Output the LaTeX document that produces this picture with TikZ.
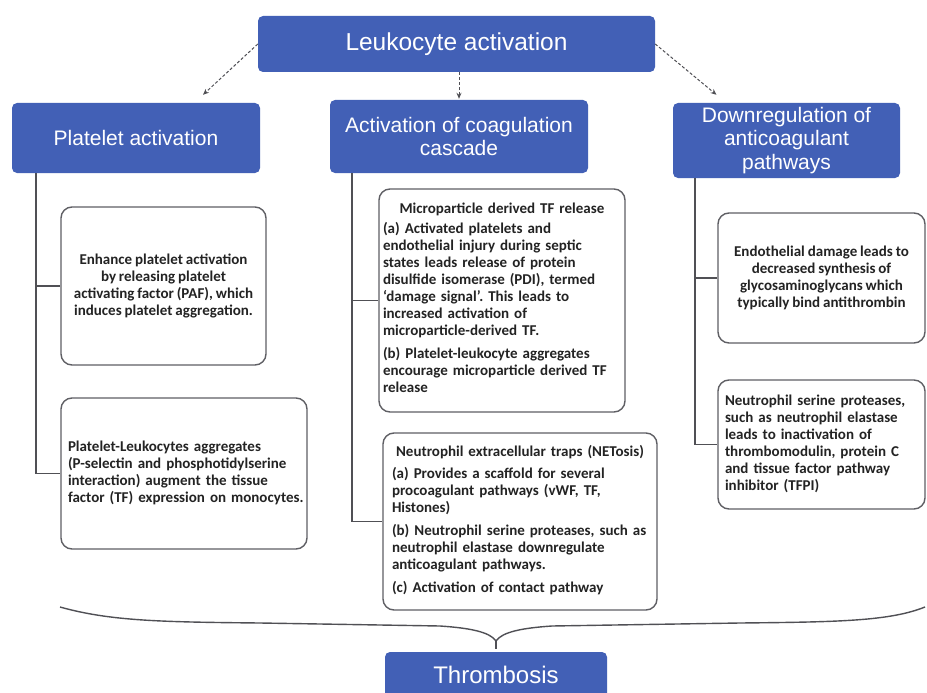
\documentclass[tikz,border=0pt]{standalone}
\usepackage{fontspec}
\newfontfamily\hfont{Liberation Sans}
\newfontfamily\cfont[WordSpace=0.85]{Carlito}
\usetikzlibrary{calc,arrows.meta}
\definecolor{hblue}{RGB}{66,96,182}
\definecolor{cgray}{RGB}{95,95,100}
\definecolor{lgray}{RGB}{80,80,85}
\definecolor{tgray}{RGB}{35,35,35}
\begin{document}
\begin{tikzpicture}[x=1pt,y=-1pt,
  hdr/.style={fill=hblue, rounded corners=5pt, text=white, align=center, inner sep=0pt,
    font=\hfont\fontsize{21}{23.5}\selectfont},
  card/.style={draw=cgray, line width=1.4pt, fill=white, rounded corners=11pt, inner sep=0pt,
    text=tgray, font=\cfont\bfseries\fontsize{15}{17}\selectfont\frenchspacing},
  link/.style={draw=lgray, line width=1.6pt},
  arr/.style={draw=lgray, line width=1pt, densely dashed, -{Stealth[length=6pt,width=5pt]}},
]
\useasboundingbox (0,0) rectangle (927,693);
\fill[white] (0,0) rectangle (927,693);

% headers
\node[hdr, minimum width=397, minimum height=56, font=\hfont\fontsize{24.5}{28}\selectfont] (leuk) at (456.5,44) {Leukocyte activation};
\node[hdr, minimum width=248, minimum height=70] (plat) at (136,138) {Platelet activation};
\node[hdr, minimum width=258, minimum height=73] (coag) at (459,136.5) {Activation of coagulation\\cascade};
\node[hdr, minimum width=227, minimum height=75] (down) at (786.5,140.5) {Downregulation of\\anticoagulant\\pathways};
\node[hdr, minimum width=222, minimum height=46, font=\hfont\fontsize{24}{28}\selectfont] (thr) at (496,675) {Thrombosis};

% arrows from leukocyte activation
\draw[arr] (leuk.west) -- ($(plat.north)+(67,-8)$);
\draw[arr] (leuk.south -| coag.north) -- ($(coag.north)+(0,-1)$);
\draw[arr] (leuk.east) -- ($(down.north)+(-70,-8)$);

% cards
\node[card, minimum width=205, minimum height=158, align=center] (enh) at (163.5,286)
  {Enhance platelet activation\\by releasing platelet\\activating factor (PAF), which\\induces platelet aggregation.};
\node[card, text width=232, inner xsep=7, minimum height=151, align=left] (plg) at (184,473.5)
  {\begin{tabular}{@{}l@{}}Platelet-Leukocytes aggregates\\(P-selectin and phosphotidylserine\\interaction) augment the tissue\\factor (TF) expression on monocytes.\end{tabular}};

\node[card, text width=238, inner xsep=4, minimum height=223, align=left] (micro) at (502,300.5)
  {\makebox[\linewidth]{Microparticle derived TF release}\\[5pt]
   \begin{tabular}{@{}l@{}}(a) Activated platelets and\\endothelial injury during septic\\states leads release of protein\\disulfide isomerase (PDI), termed\\‘damage signal’. This leads to\\increased activation of\\microparticle-derived TF.\\[6pt]
   (b) Platelet-leukocyte aggregates\\encourage microparticle derived TF\\release\end{tabular}};
\node[card, text width=256, inner xsep=9, minimum height=177, align=left] (net) at (520,521.5)
  {\makebox[\linewidth]{Neutrophil extracellular traps (NETosis)}\\[7pt]
   \begin{tabular}{@{}l@{}}(a) Provides a scaffold for several\\procoagulant pathways (vWF, TF,\\Histones)\\[6pt]
   (b) Neutrophil serine proteases, such as\\neutrophil elastase downregulate\\anticoagulant pathways.\\[6pt]
   (c) Activation of contact pathway\end{tabular}};

\node[card, minimum width=207, minimum height=130, align=center] (endo) at (821.5,278)
  {Endothelial damage leads to\\decreased synthesis of\\glycosaminoglycans which\\typically bind antithrombin};
\node[card, text width=193, inner xsep=7, minimum height=129, align=left] (nsp) at (821.5,444.5)
  {\begin{tabular}{@{}l@{}}Neutrophil serine proteases,\\such as neutrophil elastase\\leads to inactivation of\\thrombomodulin, protein C\\and tissue factor pathway\\inhibitor (TFPI)\end{tabular}};

% tree connectors
\coordinate (pv) at ($(plat.south west)+(24,0)$);
\coordinate (cv) at ($(coag.south west)+(22,0)$);
\coordinate (dv) at ($(down.south west)+(22,0)$);
\draw[link] (pv) |- (enh.west);
\draw[link] (pv) |- (plg.west);
\draw[link] (cv) |- (micro.west);
\draw[link] (cv) |- (net.west);
\draw[link] (dv) |- (endo.west);
\draw[link] (dv) |- (nsp.west);

% brace
\coordinate (btip) at (496,641);
\draw[link, line width=1.4pt] (60,607) .. controls (110,621) and (160,622) .. (260,623)
  -- (440,626) .. controls (470,628) and (490,632) .. (btip)
  .. controls (502,632) and (522,628) .. (552,626)
  -- (740,623) .. controls (840,622) and (890,621) .. (925,607);
\draw[link, line width=1.4pt] (btip) -- ($(thr.north)+(0,-3)$);
\end{tikzpicture}
\end{document}
